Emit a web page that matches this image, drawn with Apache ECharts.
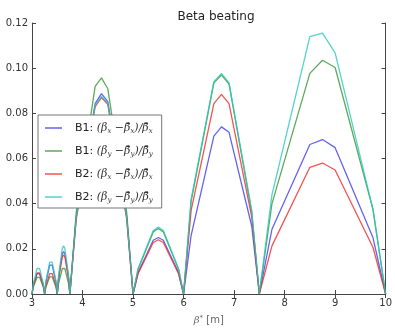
<!DOCTYPE html>
<html>
<head>
<meta charset="utf-8">
<script src="https://cdn.jsdelivr.net/npm/echarts@6/dist/echarts.min.js"></script>
<style>html,body{margin:0;padding:0;background:#fff}#c{width:395px;height:330px}</style>
</head>
<body>
<div id="c"></div>
<script>
const betaStar = [3, 3.025, 3.1, 3.125, 3.15, 3.225, 3.25, 3.275, 3.35, 3.375, 3.4, 3.475, 3.5, 3.525, 3.6, 3.625, 3.65, 3.725, 3.75, 3.875, 4.25, 4.375, 4.5, 4.875, 5, 5.1, 5.4, 5.5, 5.6, 5.9, 6, 6.15, 6.6, 6.75, 6.9, 7.35, 7.5, 7.75, 8.5, 8.75, 9, 9.75, 10];
const b1x = [0, 0.0036, 0.0090, 0.0095, 0.0090, 0.0036, 0, 0.0051, 0.0128, 0.0135, 0.0128, 0.0051, 0, 0.0071, 0.0179, 0.0188, 0.0179, 0.0071, 0, 0.034, 0.0843, 0.0887, 0.0852, 0.034, 0, 0.0095, 0.0238, 0.0250, 0.0238, 0.0095, 0, 0.026, 0.0699, 0.0740, 0.0716, 0.030, 0, 0.0287, 0.0662, 0.0684, 0.0648, 0.0249, 0];
const b1y = [0, 0.003, 0.0074, 0.0078, 0.0074, 0.003, 0, 0.003, 0.0076, 0.008, 0.0076, 0.003, 0, 0.0045, 0.0113, 0.0119, 0.0113, 0.0045, 0, 0.036, 0.0919, 0.0957, 0.0909, 0.036, 0, 0.011, 0.0275, 0.0290, 0.0275, 0.011, 0, 0.041, 0.0935, 0.0970, 0.0930, 0.036, 0, 0.040, 0.0977, 0.1035, 0.1003, 0.0374, 0];
const b2x = [0, 0.0037, 0.0093, 0.0098, 0.0093, 0.0037, 0, 0.0036, 0.009, 0.0095, 0.009, 0.0036, 0, 0.0066, 0.0164, 0.0173, 0.0164, 0.0066, 0, 0.033, 0.083, 0.087, 0.084, 0.033, 0, 0.009, 0.0228, 0.0240, 0.0228, 0.009, 0, 0.037, 0.0843, 0.0884, 0.0843, 0.034, 0, 0.0213, 0.0561, 0.058, 0.0549, 0.0206, 0];
const b2y = [0, 0.0045, 0.0113, 0.0119, 0.0113, 0.0045, 0, 0.0056, 0.0141, 0.0148, 0.0141, 0.0056, 0, 0.0081, 0.0202, 0.0213, 0.0202, 0.0081, 0, 0.034, 0.0835, 0.0875, 0.0845, 0.034, 0, 0.0113, 0.0281, 0.0296, 0.0281, 0.0113, 0, 0.042, 0.094, 0.0977, 0.0935, 0.037, 0, 0.044, 0.114, 0.1155, 0.1068, 0.0374, 0];
const seriesNames = ['B1x', 'B1y', 'B2x', 'B2y'];
const seriesColors = ['rgba(60,60,240,0.8)', 'rgba(40,140,40,0.75)', 'rgba(240,40,40,0.8)', 'rgba(40,200,190,0.8)'];
const legendLabels = {
  B1x: '{b|B1:} {m|(β}{s|x}{m| −β\u0304}{s|x}{m|)/β\u0304}{s|x}',
  B1y: '{b|B1:} {m|(β}{s|y}{m| −β\u0304}{s|y}{m|)/β\u0304}{s|y}',
  B2x: '{b|B2:} {m|(β}{s|x}{m| −β\u0304}{s|x}{m|)/β\u0304}{s|x}',
  B2y: '{b|B2:} {m|(β}{s|y}{m| −β\u0304}{s|y}{m|)/β\u0304}{s|y}'
};
const allY = [b1x, b1y, b2x, b2y];

const chart = echarts.init(document.getElementById('c'), null, {renderer: 'canvas'});
const axisCol = '#444';
const lblStyle = {color: '#333', fontFamily: 'DejaVu Sans', fontSize: 10};
chart.setOption({
  animation: false,
  backgroundColor: '#fff',
  title: {
    text: 'Beta beating', left: 211, top: 6, textAlign: 'center',
    textStyle: {fontFamily: 'DejaVu Sans', fontSize: 12, fontWeight: 'normal', color: '#222'}
  },
  grid: {left: 32, right: 4, top: 23, bottom: 31, containLabel: false},
  xAxis: [{
    type: 'value', min: 3, max: 10, interval: 1,
    axisLine: {show: true, onZero: false, lineStyle: {color: axisCol, width: 1}},
    axisTick: {show: true, inside: true, length: 4, lineStyle: {color: axisCol}},
    splitLine: {show: false},
    axisLabel: Object.assign({margin: 4}, lblStyle),
    name: '{m|β}{p|*} [m]', nameLocation: 'middle', nameGap: 21,
    nameTextStyle: {color: '#666', fontFamily: 'DejaVu Sans', fontSize: 10,
      rich: {m: {fontFamily: 'DejaVu Serif', fontStyle: 'italic', fontSize: 10, color: '#666'},
             p: {fontSize: 7, color: '#666', verticalAlign: 'top'}}}
  }, {
    type: 'value', min: 3, max: 10, interval: 1, position: 'top',
    axisLine: {show: true, lineStyle: {color: axisCol, width: 1}},
    axisTick: {show: true, inside: true, length: 4, lineStyle: {color: axisCol}},
    splitLine: {show: false}, axisLabel: {show: false}
  }],
  yAxis: [{
    type: 'value', min: 0, max: 0.12, interval: 0.02,
    axisLine: {show: true, onZero: false, lineStyle: {color: axisCol, width: 1}},
    axisTick: {show: true, inside: true, length: 4, lineStyle: {color: axisCol}},
    splitLine: {show: false},
    axisLabel: Object.assign({margin: 4, formatter: v => v.toFixed(2)}, lblStyle)
  }, {
    type: 'value', min: 0, max: 0.12, interval: 0.02, position: 'right',
    axisLine: {show: true, lineStyle: {color: axisCol, width: 1}},
    axisTick: {show: true, inside: true, length: 4, lineStyle: {color: axisCol}},
    splitLine: {show: false}, axisLabel: {show: false}
  }],
  legend: {
    orient: 'vertical', left: 38, top: 115,
    data: seriesNames,
    icon: 'rect', itemWidth: 17, itemHeight: 1.5, itemGap: 9,
    padding: [6, 9, 4, 7],
    backgroundColor: '#fff', borderColor: '#777', borderWidth: 1, borderRadius: 0,
    formatter: n => legendLabels[n],
    textStyle: {
      fontFamily: 'DejaVu Sans', fontSize: 11, color: '#222', lineHeight: 14, padding: [0, 0, 0, 8],
      rich: {
        b: {fontFamily: 'DejaVu Sans', fontSize: 11, color: '#222'},
        m: {fontFamily: 'DejaVu Serif', fontStyle: 'italic', fontSize: 11, color: '#333'},
        s: {fontFamily: 'DejaVu Serif', fontStyle: 'italic', fontSize: 7, color: '#333', verticalAlign: 'bottom'}
      }
    }
  },
  series: seriesNames.map((n, i) => ({
    name: n, type: 'line', xAxisIndex: 0, yAxisIndex: 0,
    data: betaStar.map((x, j) => [x, allY[i][j]]),
    showSymbol: false, symbol: 'none',
    lineStyle: {color: seriesColors[i], width: 1.3},
    itemStyle: {color: seriesColors[i]},
    z: 2
  }))
});
</script>
</body>
</html>
